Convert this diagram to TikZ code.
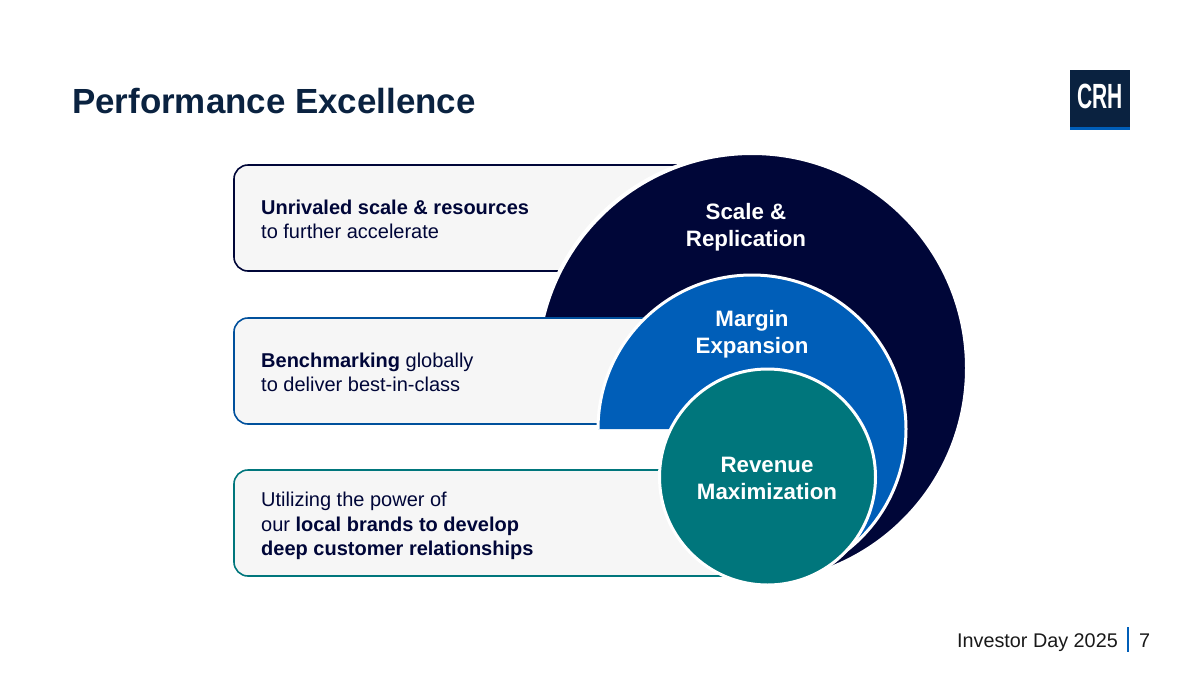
\documentclass[tikz,border=0pt]{standalone}
\usepackage{fontspec}
\setmainfont{Liberation Sans}
\definecolor{navy}{HTML}{000638}
\definecolor{ink}{HTML}{0A2240}
\definecolor{royal}{HTML}{005EB8}
\definecolor{sea}{HTML}{00767C}
\definecolor{panelgray}{HTML}{F6F6F6}

\begin{document}
\begin{tikzpicture}[
  x=1pt,y=-1pt,
  panel/.style={fill=panelgray,line width=1.6pt,rounded corners=14pt},
  ring/.style={draw=white},
  panelfont/.style={anchor=west,align=left,inner sep=0pt,text=navy,font=\fontsize{20}{24.3}\selectfont},
  ringfont/.style={align=center,inner sep=0pt,text=white,font=\fontsize{22.3}{27}\selectfont\bfseries},
  ]
  \useasboundingbox (0,0) rectangle (1200,675);

  \node[anchor=base west,inner sep=0pt,text=ink,font=\fontsize{34.9}{40}\selectfont\bfseries] (title) at (72,113.5) {Performance Excellence};

  % logo
  \fill[ink] (1070,70) rectangle (1130,130);
  \fill[royal] (1070,127) rectangle (1130,130);
  \node[inner sep=0pt,text=white,xscale=0.6,font=\fontsize{35}{35}\selectfont\bfseries] (logo) at (1100,96) {CRH};

  % outer ring
  \path[panel,draw=navy] (234,165) rectangle (780,271);
  \begin{scope}
    \clip (500,318) -- (500,100) -- (1000,100) -- (1000,700) -- (752,700) -- (752,318) -- cycle;
    \path[ring,fill=navy,line width=4pt] (752,368) circle (215pt);
  \end{scope}

  % middle ring
  \path[panel,draw=royal!85!black] (234,318) rectangle (780,424);
  \begin{scope}
    \clip (500,429) -- (500,100) -- (1000,100) -- (1000,700) -- (767,700) -- (767,429) -- cycle;
    \path[ring,fill=royal,line width=3pt] (752,429) circle (154pt);
  \end{scope}

  % inner ring
  \path[panel,draw=sea] (234,470) rectangle (780,576);
  \path[ring,fill=sea,line width=3pt] (767.5,477) circle (108pt);

  \node[panelfont] (scaletext) at (261,219) {\textbf{Unrivaled scale \& resources}\\to further accelerate};
  \node[panelfont] (margintext) at (261,372) {\textbf{Benchmarking} globally\\to deliver best-in-class};
  \node[panelfont] (revenuetext) at (261,526) {Utilizing the power of\\our \textbf{local brands to develop}\\\textbf{deep customer relationships}};

  \node[ringfont] (scale) at (746,227.5) {Scale \&\\Replication};
  \node[ringfont] (margin) at (752,334) {Margin\\Expansion};
  \node[ringfont] (revenue) at (767,478) {Revenue\\Maximization};

  % footer
  \node[anchor=base east,inner sep=0pt,text=black!90,font=\fontsize{19.8}{24}\selectfont] (event) at (1118,647) {Investor Day 2025};
  \draw[royal,line width=2pt] (1128,627) -- (1128,652);
  \node[anchor=base west,inner sep=0pt,text=black!90,font=\fontsize{19.8}{24}\selectfont] (page) at (1139,647) {7};
\end{tikzpicture}
\end{document}
